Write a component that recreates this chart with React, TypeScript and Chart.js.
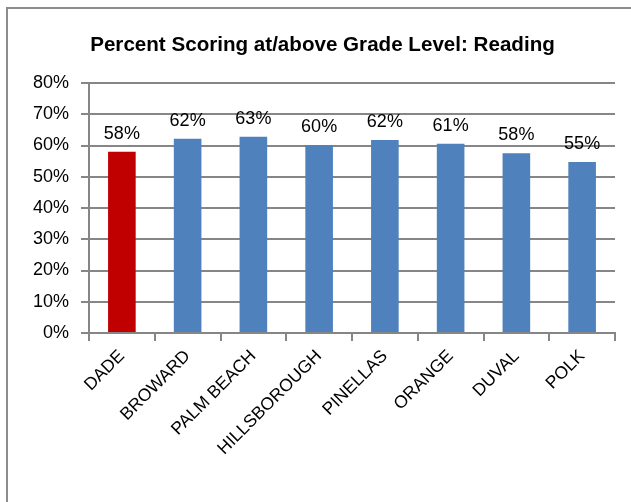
import React, { useEffect, useRef } from "react";
import { Chart, registerables } from "chart.js";

Chart.register(...registerables);

const categories = ["DADE", "BROWARD", "PALM BEACH", "HILLSBOROUGH", "PINELLAS", "ORANGE", "DUVAL", "POLK"];
const values = [58.0, 62.2, 62.8, 60.2, 61.8, 60.6, 57.5, 54.7];
const barColors = ["#C00000", "#4F81BD", "#4F81BD", "#4F81BD", "#4F81BD", "#4F81BD", "#4F81BD", "#4F81BD"];
const yTicks = { min: 0, max: 80, step: 10 };
const titleText = "Percent Scoring at/above Grade Level: Reading";

const FONT = "'Liberation Sans', Arial, sans-serif";

const borderPlugin = {
  id: "frameBorder",
  beforeDraw(chart: any) {
    const ctx = chart.ctx;
    ctx.save();
    ctx.strokeStyle = "#8c8c8c";
    ctx.lineWidth = 2;
    ctx.beginPath();
    ctx.moveTo(7, chart.height);
    ctx.lineTo(7, 8);
    ctx.lineTo(chart.width, 8);
    ctx.stroke();
    ctx.restore();
  },
};

const titlePlugin = {
  id: "centeredTitle",
  afterDraw(chart: any) {
    const ctx = chart.ctx;
    ctx.save();
    ctx.font = `bold 20.6px ${FONT}`;
    ctx.fillStyle = "#000";
    ctx.textAlign = "center";
    ctx.textBaseline = "middle";
    ctx.fillText(titleText, 322.5, 45);
    ctx.restore();
  },
};

const dataLabelPlugin = {
  id: "barValueLabels",
  afterDatasetsDraw(chart: any) {
    const ctx = chart.ctx;
    const meta = chart.getDatasetMeta(0);
    ctx.save();
    ctx.font = `18px ${FONT}`;
    ctx.fillStyle = "#000";
    ctx.textAlign = "center";
    ctx.textBaseline = "alphabetic";
    meta.data.forEach((bar: any, i: number) => {
      const v = chart.data.datasets[0].data[i] as number;
      ctx.fillText(Math.round(v) + "%", bar.x, bar.y - 13);
    });
    ctx.restore();
  },
};

export default function App() {
  const ref = useRef<HTMLCanvasElement | null>(null);
  useEffect(() => {
    if (!ref.current) return;
    const chart = new Chart(ref.current, {
      type: "bar",
      data: {
        labels: categories,
        datasets: [
          {
            data: values,
            backgroundColor: barColors,
            borderWidth: 0,
            barPercentage: 0.42,
            categoryPercentage: 1,
          },
        ],
      },
      options: {
        responsive: false,
        animation: false,
        layout: { padding: { left: 0, right: 16, top: 83, bottom: 0 } },
        plugins: {
          legend: { display: false },
          tooltip: { enabled: false },
          title: { display: false },
        },
        scales: {
          x: {
            grid: {
              display: true,
              drawOnChartArea: false,
              drawTicks: true,
              tickLength: 8,
              color: "#868686",
              lineWidth: 2,
              offset: true,
            },
            border: { display: true, color: "#868686", width: 2 },
            ticks: {
              color: "#000",
              font: { family: FONT, size: 17.5 },
              minRotation: 45,
              maxRotation: 45,
              autoSkip: false,
              padding: 5,
            },
            afterFit: (s: any) => {
              s.height = 169;
            },
          },
          y: {
            min: yTicks.min,
            max: yTicks.max,
            grid: { color: "#868686", lineWidth: 2, tickLength: 8 },
            border: { display: true, color: "#868686", width: 2 },
            ticks: {
              stepSize: yTicks.step,
              color: "#000",
              font: { family: FONT, size: 18 },
              padding: 12,
              callback: (v: any) => v + "%",
            },
            afterFit: (s: any) => {
              s.width = 89;
            },
          },
        },
      },
      plugins: [borderPlugin, dataLabelPlugin, titlePlugin],
    });
    return () => chart.destroy();
  }, []);
  return (
    <div style={{ position: "fixed", left: 0, top: 0, width: 631, height: 502, background: "#fff" }}>
      <canvas ref={ref} width={631} height={502} />
    </div>
  );
}
